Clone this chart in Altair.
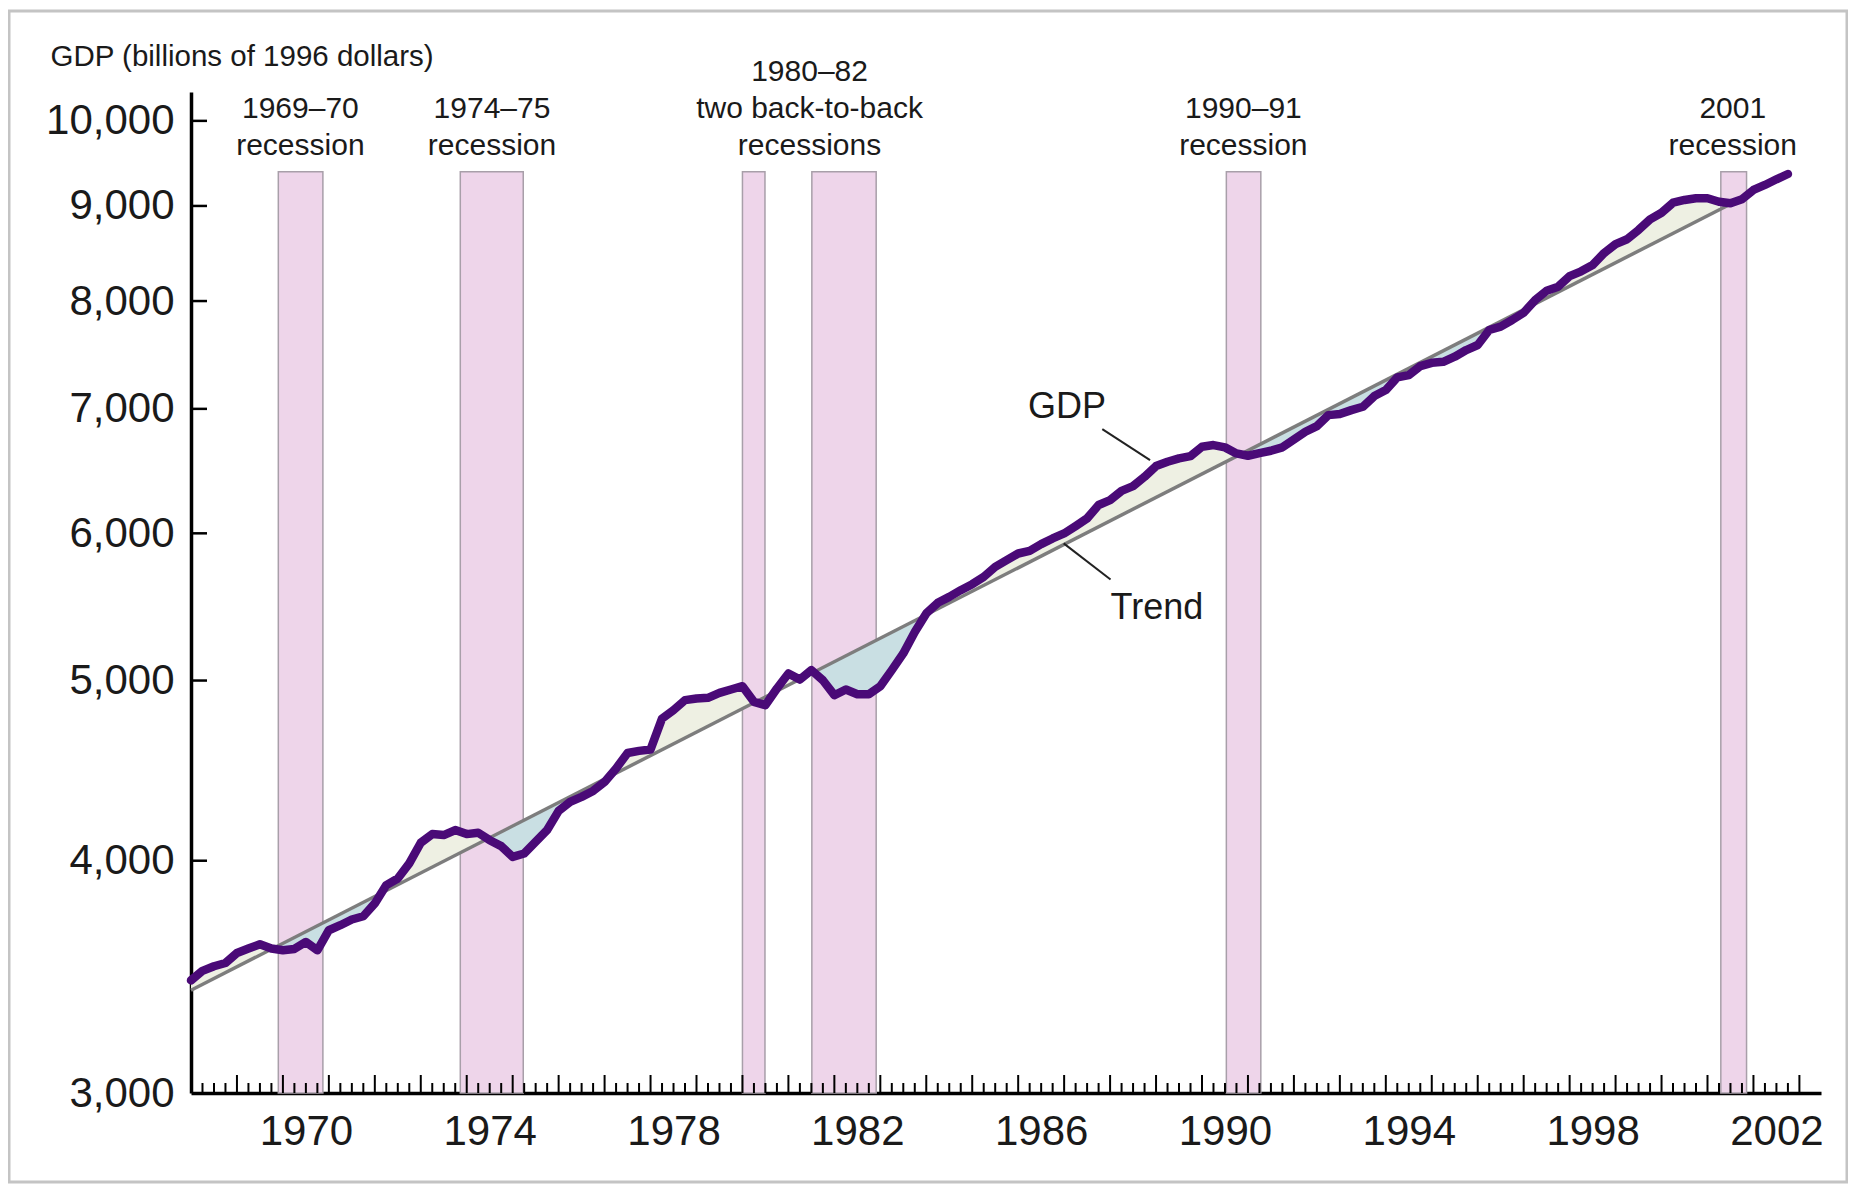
import altair as alt
import pandas as pd

# ---------------- data ----------------
# Real GDP, quarterly, 1968Q1 .. 2002Q4 (billions of 1996 dollars)
gdp_values = [
    3449, 3490, 3510, 3524,   # 1968
    3568, 3588, 3607, 3588,   # 1969
    3580, 3586, 3617, 3580,   # 1970
    3670, 3693, 3719, 3734,   # 1971
    3794, 3881, 3913, 3987,   # 1972
    4090, 4134, 4129, 4155,   # 1973
    4134, 4141, 4103, 4073,   # 1974
    4019, 4036, 4095, 4155,   # 1975
    4255, 4302, 4329, 4361,   # 1976
    4410, 4484, 4571, 4583,   # 1977
    4591, 4770, 4820, 4880,   # 1978
    4890, 4894, 4924, 4945,   # 1979
    4965, 4870, 4850, 4951,   # 1980
    5044, 5006, 5065, 5002,   # 1981
    4910, 4945, 4916, 4916,   # 1982
    4965, 5065, 5171, 5310,   # 1983
    5433, 5505, 5546, 5592,   # 1984
    5634, 5685, 5756, 5804,   # 1985
    5852, 5871, 5920, 5962,   # 1986
    5999, 6054, 6112, 6214,   # 1987
    6252, 6324, 6361, 6435,   # 1988
    6521, 6556, 6584, 6602,   # 1989
    6679, 6693, 6674, 6624,   # 1990
    6605, 6627, 6646, 6674,   # 1991
    6740, 6804, 6852, 6946,   # 1992
    6955, 6989, 7018, 7112,   # 1993
    7165, 7278, 7299, 7381,   # 1994
    7411, 7420, 7467, 7529,   # 1995
    7576, 7718, 7750, 7814,   # 1996
    7885, 8010, 8103, 8143,   # 1997
    8250, 8300, 8365, 8490,   # 1998
    8585, 8636, 8736, 8852,   # 1999
    8925, 9036, 9067, 9086,   # 2000
    9086, 9047, 9030, 9074,   # 2001
    9180, 9237, 9302, 9363,   # 2002
]
first_year = 1968
quarter_time = [first_year + i / 4 for i in range(len(gdp_values))]

# Trend line end points (log-linear trend)
trend_years = [1968.0, 2001.46]
trend_values = [3407, 9011]

# Recessions (start, end in fractional years)
rec_start = [1969.90, 1973.86, 1980.00, 1981.51, 1990.53, 2001.29]
rec_end = [1970.87, 1975.23, 1980.49, 1982.91, 1991.28, 2001.85]
rec_top = 9390
rec_bottom = 3000

rec_label_x2 = [1970.38, 1974.55, 1990.90, 2001.55]
rec_label_text2 = ["1969–70\nrecession", "1974–75\nrecession",
                   "1990–91\nrecession", "2001\nrecession"]
rec_label_x3 = [1981.46]
rec_label_text3 = ["1980–82\ntwo back-to-back\nrecessions"]

# Annotations
ann_text = ["GDP", "Trend"]
ann_year = [1987.06, 1989.02]
ann_value = [7018, 5472]
lead_year1 = [1987.83, 1986.99]
lead_val1 = [6826, 5926]
lead_year2 = [1988.87, 1988.01]
lead_val2 = [6569, 5667]

# Axis tick labels
y_tick_values = [3000, 4000, 5000, 6000, 7000, 8000, 9000, 10000]
x_label_years = [1970, 1974, 1978, 1982, 1986, 1990, 1994, 1998, 2002]
axis_years = list(range(1969, 2004))

# ---------------- layout / style ----------------
W, H = 1630, 1001
X_DOM = [1968.0, 2003.47]
Y_DOM = [3000, 10364]
FONT = "Liberation Sans"
TXT = "#1a1a1a"

xs = alt.Scale(domain=X_DOM, nice=False, zero=False)
ys = alt.Scale(type="log", domain=Y_DOM, nice=False, zero=False)

x_axis = alt.Axis(
    values=[y + 0.5 for y in x_label_years],
    labelExpr="'' + floor(datum.value)",
    ticks=False, tickSize=0, grid=False,
    domainColor="black", domainWidth=3.5,
    labelFont=FONT, labelFontSize=42, labelColor=TXT, labelPadding=18,
    labelFlush=False, labelOverlap=False, title=None,
)
y_axis = alt.Axis(
    values=y_tick_values, format=",d",
    ticks=False, tickSize=0, grid=False,
    domainColor="black", domainWidth=3.5,
    labelFont=FONT, labelFontSize=42, labelColor=TXT, labelPadding=17,
    labelOverlap=False,
    title="GDP (billions of 1996 dollars)", titleAngle=0, titleAlign="left",
    titleBaseline="middle", titleX=-141, titleY=-36,
    titleFont=FONT, titleFontSize=29.5, titleFontWeight="normal", titleColor=TXT,
)


def X(field):
    return alt.X(field, scale=xs, axis=x_axis)


def Y(field):
    return alt.Y(field, scale=ys, axis=y_axis)


gdp_df = pd.DataFrame({"t": quarter_time, "gdp": gdp_values})
trend_df = pd.DataFrame({"t": trend_years, "v": trend_values})
rec_df = pd.DataFrame({"s": rec_start, "e": rec_end,
                       "top": [rec_top] * len(rec_start),
                       "bot": [rec_bottom] * len(rec_start)})
lab2_df = pd.DataFrame({"t": rec_label_x2, "label": rec_label_text2})
lab3_df = pd.DataFrame({"t": rec_label_x3, "label": rec_label_text3})
ann_df = pd.DataFrame({"t": ann_year, "v": ann_value, "label": ann_text})
lead_df = pd.DataFrame({"t1": lead_year1, "v1": lead_val1,
                        "t2": lead_year2, "v2": lead_val2})
ytick_df = pd.DataFrame({"v": y_tick_values[1:]})
major_df = pd.DataFrame({"t": axis_years})
minor_df = pd.DataFrame({"t": [y + q / 4 for y in range(1968, 2003) for q in (1, 2, 3)]})

# frame around the figure
frame = alt.Chart(pd.DataFrame({"a": [0]})).mark_rect(
    fillOpacity=0, stroke="#c4c4c4", strokeWidth=3
).encode(x=alt.value(-182), x2=alt.value(1656), y=alt.value(-81), y2=alt.value(1090))

bands = alt.Chart(rec_df).mark_rect(
    fill="#eed5ea", stroke="#a89fa9", strokeWidth=1.5
).encode(x=X("s:Q"), x2="e:Q", y=Y("top:Q"), y2="bot:Q")

T0, T1 = trend_values
Y0, Y1 = trend_years
fill_base = alt.Chart(gdp_df).transform_filter(
    f"datum.t <= {Y1}"
).transform_calculate(
    trend=f"{T0} * pow({T1}/{T0}, (datum.t - {Y0}) / ({Y1} - {Y0}))"
).transform_calculate(
    hi="max(datum.gdp, datum.trend)",
    lo="min(datum.gdp, datum.trend)",
)
above = fill_base.mark_area(color="#eef0e3").encode(
    x=X("t:Q"), y=Y("hi:Q"), y2="trend:Q")
below = fill_base.mark_area(color="#c9dfe3").encode(
    x=X("t:Q"), y=Y("lo:Q"), y2="trend:Q")

trend_line = alt.Chart(trend_df).mark_line(color="#7d7d7d", strokeWidth=3.5).encode(
    x=X("t:Q"), y=Y("v:Q"))

gdp_line = alt.Chart(gdp_df).mark_line(
    color="#4a0a77", strokeWidth=8.5, strokeJoin="round", strokeCap="round"
).encode(x=X("t:Q"), y=Y("gdp:Q"))

ytick = alt.Chart(ytick_df).mark_rule(color="black", strokeWidth=2.5).encode(
    y=Y("v:Q"), x=alt.value(0), x2=alt.value(16))
xmajor = alt.Chart(major_df).mark_rule(color="black", strokeWidth=2).encode(
    x=X("t:Q"), y=alt.value(H), y2=alt.value(H - 18))
xminor = alt.Chart(minor_df).mark_rule(color="black", strokeWidth=2).encode(
    x=X("t:Q"), y=alt.value(H), y2=alt.value(H - 10))

leaders = alt.Chart(lead_df).mark_rule(color="#222222", strokeWidth=2).encode(
    x=X("t1:Q"), x2="t2:Q", y=Y("v1:Q"), y2="v2:Q")
ann = alt.Chart(ann_df).mark_text(
    font=FONT, fontSize=36, color=TXT, align="center", baseline="middle"
).encode(x=X("t:Q"), y=Y("v:Q"), text="label:N")

lab2 = alt.Chart(lab2_df).mark_text(
    font=FONT, fontSize=30, color=TXT, align="center", baseline="top",
    lineBreak="\n", lineHeight=37
).encode(x=X("t:Q"), y=alt.value(1.5), text="label:N")
lab3 = alt.Chart(lab3_df).mark_text(
    font=FONT, fontSize=30, color=TXT, align="center", baseline="top",
    lineBreak="\n", lineHeight=37
).encode(x=X("t:Q"), y=alt.value(-35.5), text="label:N")

chart = alt.layer(
    bands, above, below, trend_line, gdp_line,
    ytick, xmajor, xminor, leaders, ann, lab2, lab3, frame
).properties(
    width=W, height=H,
    autosize=alt.AutoSizeParams(type="none"),
    padding={"left": 183, "top": 84, "right": 27, "bottom": 92},
    background="white",
).configure_view(stroke=None)

chart.save("out.html", embed_options={"renderer": "svg", "actions": False})
